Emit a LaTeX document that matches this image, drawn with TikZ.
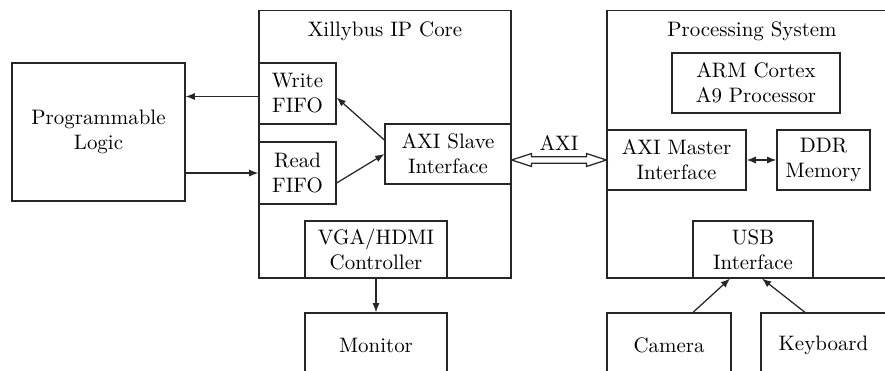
\documentclass[tikz,border=0pt]{standalone}
\usetikzlibrary{arrows.meta,calc}
\begin{document}
\begin{tikzpicture}[x=0.478pt,y=-0.478pt,
  line width=0.6pt, draw=black!85,
  box/.style={draw=black!85, rectangle, inner sep=0pt, align=center},
  arr/.style={-{Latex[length=4.4pt,width=3.4pt]}, draw=black!85},
  darr/.style={{Latex[length=4.4pt,width=3.4pt]}-{Latex[length=4.4pt,width=3.4pt]}, draw=black!85}]
\useasboundingbox (0,0) rectangle (885,370);
\clip (0,0) rectangle (885,370);
% containers
\node[box, minimum width=120.5pt, minimum height=127.9pt] (xil) at (385,144.25) {};
\node[box, minimum width=138.6pt, minimum height=127.9pt] (ps) at (752,144.25) {};
\node (xilt) at (385,31) {Xillybus IP Core};
\node (pst) at (752,31) {Processing System};
% blocks
\node[box, minimum width=82.7pt, minimum height=66pt] (pl) at (98.5,132) {Programmable\\Logic};
\node[box, minimum width=36.8pt, minimum height=29.2pt] (wf) at (297.5,93.5) {Write\\FIFO};
\node[box, minimum width=36.8pt, minimum height=29.6pt] (rf) at (297.5,173) {Read\\FIFO};
\node[box, minimum width=60.2pt, minimum height=28.7pt] (as) at (448,154) {AXI Slave\\Interface};
\node[box, minimum width=67.9pt, minimum height=27.2pt] (vga) at (376,249.5) {VGA/HDMI\\Controller};
\node[box, minimum width=67.9pt, minimum height=30.6pt] (mon) at (376,345) {Monitor};
\node[box, minimum width=80.3pt, minimum height=28.7pt] (arm) at (756,83) {ARM Cortex\\A9 Processor};
\node[box, minimum width=66.4pt, minimum height=28.7pt] (am) at (676.5,160) {AXI Master\\Interface};
\node[box, minimum width=44.5pt, minimum height=28.7pt] (ddr) at (823.5,160) {DDR\\Memory};
\node[box, minimum width=57.4pt, minimum height=27.2pt] (usb) at (753,249.5) {USB\\Interface};
\node[box, minimum width=59.3pt, minimum height=30.6pt] (cam) at (669,345) {Camera};
\node[box, minimum width=59.8pt, minimum height=30.6pt] (kbd) at (823.5,345) {Keyboard};
% connectors
\coordinate (wfo) at ($(wf.west)+(0,3)$);
\draw[arr] (wfo) -- (wfo -| pl.east);
\coordinate (rfi) at (rf.west);
\draw[arr] (rfi -| pl.east) -- (rfi);
\draw[arr] ($(as.west)+(0,-14)$) -- ($(wf.east)+(0,4)$);
\draw[arr] ($(rf.east)+(0,10)$) -- (as.west);
\draw[arr] (vga.south) -- (mon.north);
\draw[darr] (am.east) -- (ddr.west);
\draw[arr] ($(cam.north)+(24,0)$) -- ($(usb.south)+(-23,0)$);
\draw[arr] ($(kbd.north)+(-18.5,0)$) -- ($(usb.south)+(9,0)$);
% AXI hollow double arrow
\coordinate (axl) at (as.east |- am.west);
\coordinate (axr) at (am.west);
\draw[line join=miter] (axl) -- ($(axl)+(20,-6.5)$) -- ($(axl)+(20,-3.3)$) -- ($(axr)+(-20,-3.3)$)
  -- ($(axr)+(-20,-6.5)$) -- (axr) -- ($(axr)+(-20,6.5)$) -- ($(axr)+(-20,3.3)$)
  -- ($(axl)+(20,3.3)$) -- ($(axl)+(20,6.5)$) -- cycle;
\node (axit) at ($(axl)!0.5!(axr)+(0,-17)$) {AXI};
\end{tikzpicture}
\end{document}
